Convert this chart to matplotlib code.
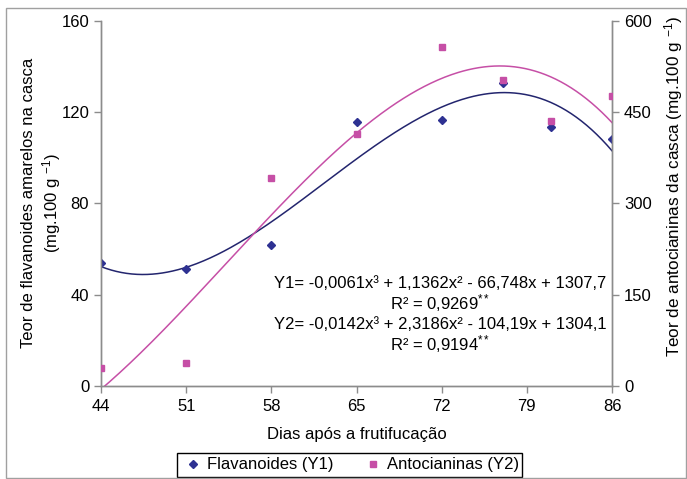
import numpy as np
import matplotlib.pyplot as plt
from matplotlib.patches import Rectangle

plt.rcParams['font.family'] = ['Liberation Sans', 'DejaVu Sans']
plt.rcParams['mathtext.fontset'] = 'custom'
plt.rcParams['mathtext.rm'] = 'Liberation Sans'
plt.rcParams['mathtext.it'] = 'Liberation Sans'

# ================= DADOS =================
dias = [44, 51, 58, 65, 72, 77, 81, 86]
flavanoides = [54.0, 51.2, 61.6, 115.4, 116.7, 132.8, 113.5, 108.1]   # eixo esquerdo
antocianinas = [29.5, 37.7, 341, 414, 556, 503, 435, 476]            # eixo direito

xticks = [44, 51, 58, 65, 72, 79, 86]
yticks_esq = [0, 40, 80, 120, 160]
yticks_dir = [0, 150, 300, 450, 600]

eq1 = 'Y1= -0,0061x³ + 1,1362x² - 66,748x + 1307,7'
r1 = r'R² = 0,9269$^{**}$'
eq2 = 'Y2= -0,0142x³ + 2,3186x² - 104,19x + 1304,1'
r2 = r'R² = 0,9194$^{**}$'

cor1 = '#2E3192'
cor2 = '#C64FA6'
cinza = '#8C8C8C'

# ============= AJUSTE POLINOMIAL =============
xx = np.linspace(44, 86, 300)
p1 = np.polyfit(dias, flavanoides, 3)
p2 = np.polyfit(dias, antocianinas, 3)

# ============= GRÁFICO =============
fig = plt.figure(figsize=(6.87, 4.79), dpi=100)
ax = fig.add_axes([0.147, 0.194, 0.744, 0.763])
ax2 = ax.twinx()

ax.plot(xx, np.polyval(p1, xx), color='#23256E', lw=1.1, zorder=2)
ax.plot(dias, flavanoides, 'D', color=cor1, ms=4, zorder=3, label='Flavanoides (Y1)')
ax2.plot(xx, np.polyval(p2, xx), color=cor2, lw=1.1, zorder=2)
ax2.plot(dias, antocianinas, 's', color=cor2, ms=5, zorder=3, label='Antocianinas (Y2)')

ax.set_xlim(44, 86)
ax.set_ylim(0, 160)
ax2.set_ylim(0, 600)
ax.set_xticks(xticks)
ax.set_yticks(yticks_esq)
ax2.set_yticks(yticks_dir)

for a in (ax, ax2):
    for s in a.spines.values():
        s.set_color(cinza)
        s.set_linewidth(1)
    a.spines['top'].set_visible(False)
    a.tick_params(colors=cinza, labelcolor='black', labelsize=12, length=5, width=1)
ax.tick_params(axis='x', pad=4)

ax.set_xlabel('Dias após a frutifucação', fontsize=12, labelpad=10)
ax.set_ylabel('Teor de flavanoides amarelos na casca\n(mg.100 g $^{-1}$)', fontsize=12,
              labelpad=-1, linespacing=1.2)
ax2.set_ylabel('Teor de antocianinas da casca (mg.100 g $^{-1}$)', fontsize=12.3)
ax2.yaxis.set_label_coords(1.098, 0.545)

ax.text(0.663, 0.281, eq1, transform=ax.transAxes, ha='center', va='center', fontsize=12)
ax.text(0.663, 0.228, r1, transform=ax.transAxes, ha='center', va='center', fontsize=12)
ax.text(0.663, 0.169, eq2, transform=ax.transAxes, ha='center', va='center', fontsize=12)
ax.text(0.663, 0.115, r2, transform=ax.transAxes, ha='center', va='center', fontsize=12)

h1, l1 = ax.get_legend_handles_labels()
h2, l2 = ax2.get_legend_handles_labels()
leg = fig.legend(h1 + h2, l1 + l2, loc='center', bbox_to_anchor=(351 / 687, 1 - 465 / 479),
                 ncol=2, fontsize=12, frameon=False, handlelength=1.2, handletextpad=0.2,
                 columnspacing=1.8, borderpad=0, borderaxespad=0)

# moldura da legenda
fig.patches.append(Rectangle((177 / 687, 1 - 477 / 479), 345 / 687, 24 / 479,
                             transform=fig.transFigure, fill=False, ec='black', lw=1))
# moldura externa
fig.patches.append(Rectangle((6 / 687, 0.002), 680 / 687, 1 - 8 / 479 - 0.002,
                             transform=fig.transFigure, fill=False, ec='#A0A0A0', lw=1))

fig.savefig('out.png', dpi=100)
